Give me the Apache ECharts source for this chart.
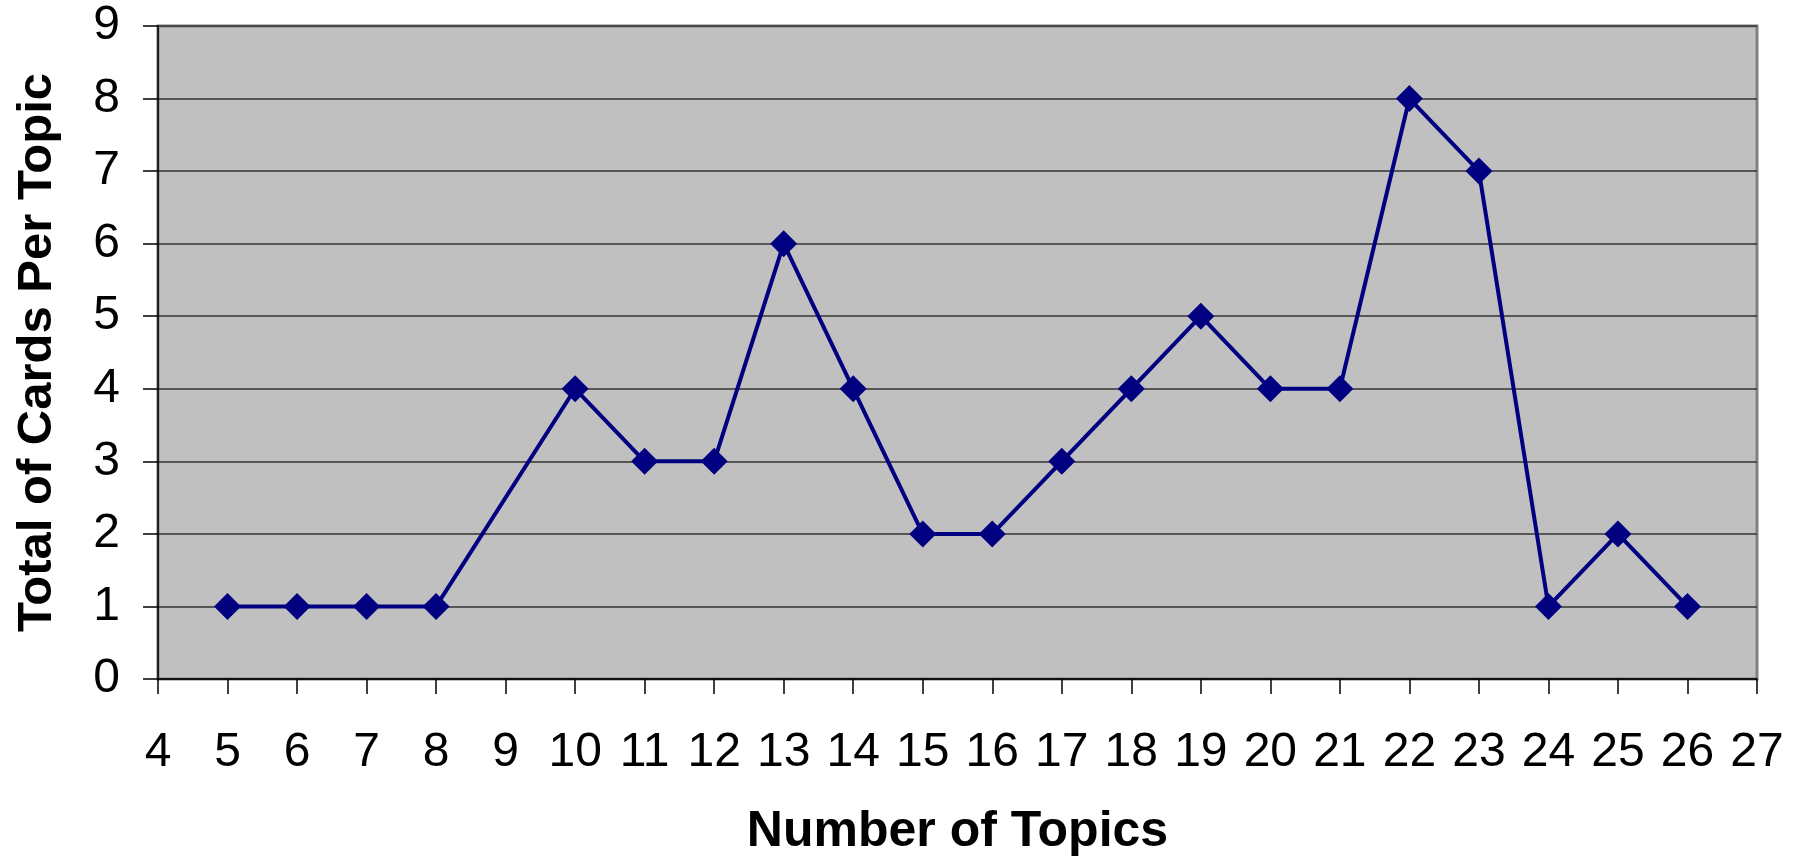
<!DOCTYPE html>
<html>
<head>
<meta charset="utf-8">
<script src="https://cdn.jsdelivr.net/npm/echarts@6/dist/echarts.min.js"></script>
<style>
  html, body { margin: 0; padding: 0; background: #fff; }
  #chart { width: 1801px; height: 859px; }
</style>
</head>
<body>
<div id="chart"></div>
<script>
// topics with a point (no point at 9)
const topics = [5, 6, 7, 8, 10, 11, 12, 13, 14, 15, 16, 17, 18, 19, 20, 21, 22, 23, 24, 25, 26];
const cards = [1, 1, 1, 1, 4, 3, 3, 6, 4, 2, 2, 3, 4, 5, 4, 4, 8, 7, 1, 2, 1];
const xRange = [4, 27];
const yRange = [0, 9];

const font = '"Liberation Sans", Arial, sans-serif';

const option = {
    animation: false,
    grid: {
        left: 158,
        right: 44,
        top: 26,
        bottom: 180,
        outerBoundsMode: 'none',
        containLabel: false,
        show: true,
        backgroundColor: '#c0c0c0',
        borderColor: '#808080',
        borderWidth: 3
    },
    xAxis: {
        type: 'value',
        min: xRange[0],
        max: xRange[1],
        interval: 1,
        name: 'Number of Topics',
        nameLocation: 'middle',
        nameGap: 128,
        nameTextStyle: { fontFamily: font, fontSize: 50, fontWeight: 'bold', color: '#000' },
        axisLine: { show: true, onZero: false, lineStyle: { color: '#000', width: 1.5 } },
        axisTick: { show: true, inside: false, length: 15, lineStyle: { color: '#000', width: 1.5 } },
        axisLabel: { fontFamily: font, fontSize: 48, color: '#000', margin: 50 },
        splitLine: { show: false }
    },
    yAxis: {
        type: 'value',
        min: yRange[0],
        max: yRange[1],
        interval: 1,
        name: 'Total of Cards Per Topic',
        nameLocation: 'middle',
        nameGap: 96,
        nameTextStyle: { fontFamily: font, fontSize: 49, fontWeight: 'bold', color: '#000' },
        axisLine: { show: true, lineStyle: { color: '#000', width: 1.5 } },
        axisTick: { show: true, inside: false, length: 15, lineStyle: { color: '#000', width: 1.5 } },
        axisLabel: { fontFamily: font, fontSize: 48, color: '#000', margin: 38 },
        splitLine: { show: true, lineStyle: { color: '#333', width: 1.5 } }
    },
    series: [
        {
            type: 'line',
            data: topics.map((t, i) => [t, cards[i]]),
            symbol: 'diamond',
            symbolSize: 27,
            lineStyle: { color: '#000080', width: 4 },
            itemStyle: { color: '#000080' }
        }
    ]
};

const chart = echarts.init(document.getElementById('chart'));
chart.setOption(option);
window.onresize = function () {
    chart.resize();
};
</script>
</body>
</html>
